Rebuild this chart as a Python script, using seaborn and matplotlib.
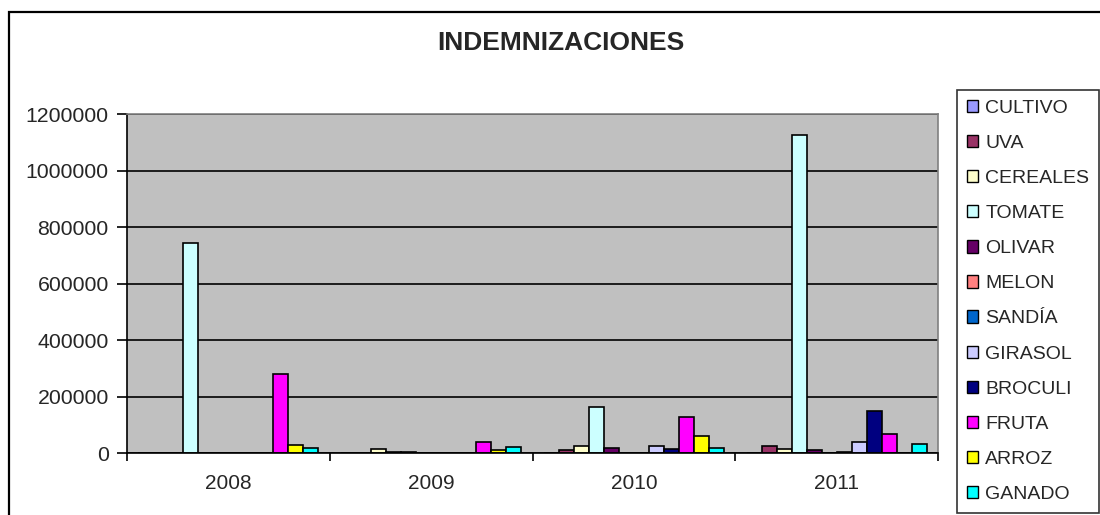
import pandas as pd
import seaborn as sns
import matplotlib.pyplot as plt
from matplotlib.patches import Rectangle

years = ["2008", "2009", "2010", "2011"]

crops = ["CULTIVO", "UVA", "CEREALES", "TOMATE", "OLIVAR", "MELON",
         "SANDÍA", "GIRASOL", "BROCULI", "FRUTA", "ARROZ", "GANADO"]

# values per crop, one per year
cultivo = [0, 0, 0, 0]
uva = [0, 0, 10000, 26000]
cereales = [0, 16000, 26000, 16000]
tomate = [745000, 4000, 163000, 1125000]
olivar = [0, 5000, 20000, 10000]
melon = [0, 0, 0, 0]
sandia = [0, 0, 0, 5000]
girasol = [0, 0, 26000, 39000]
broculi = [0, 0, 16000, 151000]
fruta = [282000, 39000, 127000, 69000]
arroz = [28000, 10000, 62000, 0]
ganado = [18000, 21000, 20000, 34000]

crop_colors = {
    "CULTIVO": "#9999FF",
    "UVA": "#993366",
    "CEREALES": "#FFFFCC",
    "TOMATE": "#CCFFFF",
    "OLIVAR": "#660066",
    "MELON": "#FF8080",
    "SANDÍA": "#0066CC",
    "GIRASOL": "#CCCCFF",
    "BROCULI": "#000080",
    "FRUTA": "#FF00FF",
    "ARROZ": "#FFFF00",
    "GANADO": "#00FFFF",
}

series = [cultivo, uva, cereales, tomate, olivar, melon,
          sandia, girasol, broculi, fruta, arroz, ganado]
rows = []
for crop, vals in zip(crops, series):
    for year, v in zip(years, vals):
        rows.append({"Año": year, "Valor": v, "Cultivo": crop})
df = pd.DataFrame(rows)

sns.set_style("white")
plt.rcParams["font.family"] = ["Liberation Sans", "DejaVu Sans"]

fig = plt.figure(figsize=(11, 5.15), dpi=100)
ax = fig.add_axes([126.7 / 1100, 61.7 / 515, 811.6 / 1100, 339.3 / 515])

sns.barplot(data=df, x="Año", y="Valor", hue="Cultivo", hue_order=crops,
            order=years, palette=crop_colors, width=12 / 13.5, gap=0,
            edgecolor="black", linewidth=1.2, saturation=1, ax=ax, errorbar=None)

ax.set_facecolor("#C0C0C0")
ax.set_ylim(0, 1200000)
ax.set_xlim(-0.5, 3.5)
ax.set_yticks(range(0, 1200001, 200000))
ax.set_yticklabels([str(v) for v in range(0, 1200001, 200000)], fontsize=15.3)
ax.yaxis.grid(True, color="black", linewidth=1.2)
ax.set_axisbelow(True)
ax.set_xlabel("")
ax.set_ylabel("")

ax.set_xticks(range(len(years)))
ax.set_xticklabels(years, fontsize=15)
ax.tick_params(axis="x", which="major", bottom=True, length=0, pad=15)
ax.set_xticks([-0.5, 0.5, 1.5, 2.5, 3.5], minor=True)
ax.tick_params(axis="x", which="minor", bottom=True, length=6, width=1.2,
               color="black", direction="out")
ax.tick_params(axis="y", left=True, length=7, width=1.2, color="black",
               direction="out", pad=6)

for side in ["top", "right"]:
    ax.spines[side].set_color("#808080")
    ax.spines[side].set_linewidth(1.2)
for side in ["left", "bottom"]:
    ax.spines[side].set_color("black")
    ax.spines[side].set_linewidth(1.2)

ax.legend_.remove()
handles, labels = ax.get_legend_handles_labels()
leg = fig.legend(handles, labels, loc="upper left",
                 bbox_to_anchor=(957 / 1100, 1 - 90 / 515),
                 bbox_transform=fig.transFigure, borderaxespad=0,
                 fontsize=14, frameon=True, fancybox=False,
                 handlelength=0.6, handleheight=0.6, handletextpad=0.35,
                 labelspacing=0.93, borderpad=0.5)
leg.get_frame().set_edgecolor("black")
leg.get_frame().set_linewidth(1.2)
for h in leg.legend_handles:
    h.set_edgecolor("black")
    h.set_linewidth(1)

fig.text(561 / 1100, 1 - 43 / 515, "INDEMNIZACIONES", ha="center", va="center",
         fontsize=19, fontweight="bold")

fig.patches.append(Rectangle((8.7 / 1100, -0.1), 1.2, 1 - 12 / 515 + 0.1,
                             transform=fig.transFigure, fill=False,
                             edgecolor="black", linewidth=1.6, zorder=0))

fig.savefig("out.png", dpi=100)
